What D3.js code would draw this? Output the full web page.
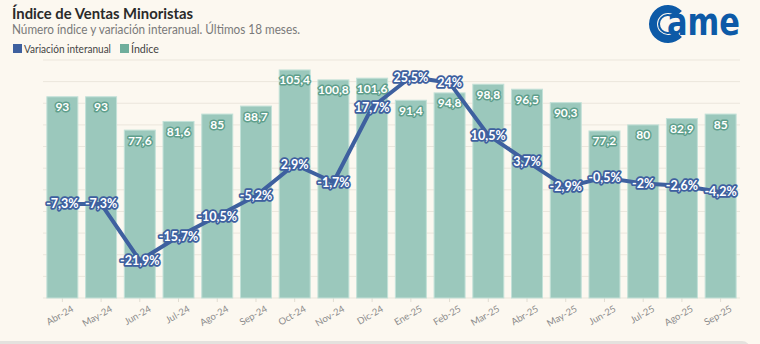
<!DOCTYPE html>
<html>
<head>
<meta charset="utf-8">
<script src="https://cdn.jsdelivr.net/npm/d3@7"></script>
<style>
  html, body { margin: 0; padding: 0; background: #fcf8f0; }
  svg { display: block; font-family: Lato, "Noto Sans", sans-serif; }
</style>
</head>
<body>
<div id="chart"></div>
<script>
const months = ["Abr-24", "May-24", "Jun-24", "Jul-24", "Ago-24", "Sep-24", "Oct-24", "Nov-24", "Dic-24",
    "Ene-25", "Feb-25", "Mar-25", "Abr-25", "May-25", "Jun-25", "Jul-25", "Ago-25", "Sep-25"];
const indice = [93, 93, 77.6, 81.6, 85, 88.7, 105.4, 100.8, 101.6, 91.4, 94.8, 98.8, 96.5, 90.3, 77.2, 80, 82.9, 85];
const variacion = [-7.3, -7.3, -21.9, -15.7, -10.5, -5.2, 2.9, -1.7, 17.7, 25.5, 24, 10.5, 3.7, -2.9, -0.5, -2, -2.6, -4.2];
const gridTicks = [0, 10, 20, 30, 40, 50, 60, 70, 80, 90, 100, 110];

const width = 760, height = 344;
const margin = {top: 60, right: 20, bottom: 46, left: 43};
const colorLinea = "#3e609f";
const colorBarra = "#9bc8bc";
const fmt = v => String(v).replace(".", ",");

const svg = d3.select("#chart")
    .append("svg")
    .attr("width", width)
    .attr("height", height);

svg.append("rect")
    .attr("width", width)
    .attr("height", height)
    .attr("fill", "#fcf8f0");

// Bottom strip
svg.append("rect")
    .attr("x", -10)
    .attr("y", 341)
    .attr("width", 760)
    .attr("height", 20)
    .attr("rx", 8)
    .attr("fill", "#e4e2de");

// Title block (narrowed to the width of the original condensed face)
svg.append("text")
    .attr("x", 12)
    .attr("y", 19)
    .attr("textLength", 181)
    .attr("lengthAdjust", "spacingAndGlyphs")
    .style("font-size", "15.5px")
    .style("font-weight", "bold")
    .attr("fill", "#2a2a2a")
    .text("Índice de Ventas Minoristas");

svg.append("text")
    .attr("x", 12)
    .attr("y", 34)
    .attr("textLength", 288)
    .attr("lengthAdjust", "spacingAndGlyphs")
    .style("font-size", "12.5px")
    .attr("fill", "#7a7a7a")
    .text("Número índice y variación interanual. Últimos 18 meses.");

const legendData = [
    {label: "Variación interanual", color: colorLinea, x: 13, w: 87},
    {label: "Índice", color: "#6fae9c", x: 120, w: 28}
];
const legend = svg.selectAll(".legend")
    .data(legendData)
    .enter()
    .append("g")
    .attr("class", "legend")
    .attr("transform", d => `translate(${d.x},44)`);
legend.append("rect")
    .attr("width", 9)
    .attr("height", 9)
    .attr("fill", d => d.color);
legend.append("text")
    .attr("x", 11)
    .attr("y", 8.5)
    .attr("textLength", d => d.w)
    .attr("lengthAdjust", "spacingAndGlyphs")
    .style("font-size", "11px")
    .attr("fill", "#444")
    .text(d => d.label);

// Logo
const logo = svg.append("g").attr("transform", "translate(668,24)");
logo.append("path")
    .attr("d", d3.arc().innerRadius(11).outerRadius(19).startAngle(0.75).endAngle(2 * Math.PI - 0.75)())
    .attr("transform", "rotate(90)")
    .attr("fill", "#0d5aa7");
logo.append("path")
    .attr("d", d3.arc().innerRadius(8).outerRadius(10).startAngle(0.9).endAngle(2 * Math.PI - 0.9)())
    .attr("transform", "rotate(90)")
    .attr("fill", "#0d5aa7");
logo.append("text")
    .attr("x", -1)
    .attr("y", 11)
    .attr("textLength", 73)
    .attr("lengthAdjust", "spacingAndGlyphs")
    .style("font-family", "'DejaVu Sans', sans-serif")
    .style("font-size", "38px")
    .style("font-weight", "bold")
    .attr("fill", "#0d5aa7")
    .text("ame");

// Scales
const x = d3.scaleBand()
    .domain(months)
    .range([margin.left, width - margin.right])
    .paddingInner(0.2)
    .paddingOuter(0.1);

const yBar = d3.scaleLinear()
    .domain([0, 110])
    .range([height - margin.bottom, margin.top]);

const yVar = d3.scaleLinear()
    .domain([-31.6, 29.9])
    .range([height - margin.bottom, margin.top]);

// Grid
svg.append("g")
    .selectAll("line")
    .data(gridTicks)
    .enter()
    .append("line")
    .attr("x1", margin.left)
    .attr("x2", width - margin.right)
    .attr("y1", d => yBar(d))
    .attr("y2", d => yBar(d))
    .attr("stroke", "#ebe6dc")
    .attr("stroke-width", 1);

// X axis
const xAxis = svg.append("g")
    .attr("transform", `translate(0,${height - margin.bottom})`)
    .call(d3.axisBottom(x).tickSize(4).tickSizeOuter(0));
xAxis.select(".domain").remove();
xAxis.selectAll(".tick line").attr("stroke", "#e2ddd2");
xAxis.selectAll(".tick text")
    .attr("fill", "#8c8c8c")
    .style("font-size", "9.5px")
    .style("font-family", "Lato, sans-serif")
    .attr("text-anchor", "end")
    .attr("dx", "4")
    .attr("dy", "10")
    .attr("transform", "rotate(-30)");

// Bars
const bars = svg.append("g");
bars.selectAll("rect")
    .data(indice)
    .enter()
    .append("rect")
    .attr("x", (d, i) => x(months[i]))
    .attr("y", d => yBar(d))
    .attr("width", x.bandwidth())
    .attr("height", d => yBar(0) - yBar(d))
    .attr("fill", colorBarra)
    .attr("stroke", "#c3e1d8")
    .attr("stroke-width", 1);

bars.selectAll("text")
    .data(indice)
    .enter()
    .append("text")
    .attr("x", (d, i) => x(months[i]) + x.bandwidth() / 2)
    .attr("y", d => yBar(d) + 14.5)
    .attr("text-anchor", "middle")
    .style("font-size", "12px")
    .style("font-weight", "bold")
    .attr("fill", "#ffffff")
    .attr("stroke", "#5f9f8c")
    .attr("stroke-width", 3)
    .attr("stroke-linejoin", "round")
    .attr("paint-order", "stroke")
    .text(d => fmt(d));

// Line
const line = d3.line()
    .x((d, i) => x(months[i]) + x.bandwidth() / 2)
    .y(d => yVar(d));

svg.append("path")
    .datum(variacion)
    .attr("d", line)
    .attr("fill", "none")
    .attr("stroke", colorLinea)
    .attr("stroke-width", 4)
    .attr("stroke-linejoin", "round");

svg.append("g")
    .selectAll("text")
    .data(variacion)
    .enter()
    .append("text")
    .attr("x", (d, i) => x(months[i]) + x.bandwidth() / 2)
    .attr("y", d => yVar(d) + 4.5)
    .attr("text-anchor", "middle")
    .style("font-size", "12.5px")
    .style("font-weight", "bold")
    .attr("fill", "#ffffff")
    .attr("stroke", colorLinea)
    .attr("stroke-width", 3.5)
    .attr("stroke-linejoin", "round")
    .attr("paint-order", "stroke")
    .text(d => fmt(d) + "%");
</script>
</body>
</html>
